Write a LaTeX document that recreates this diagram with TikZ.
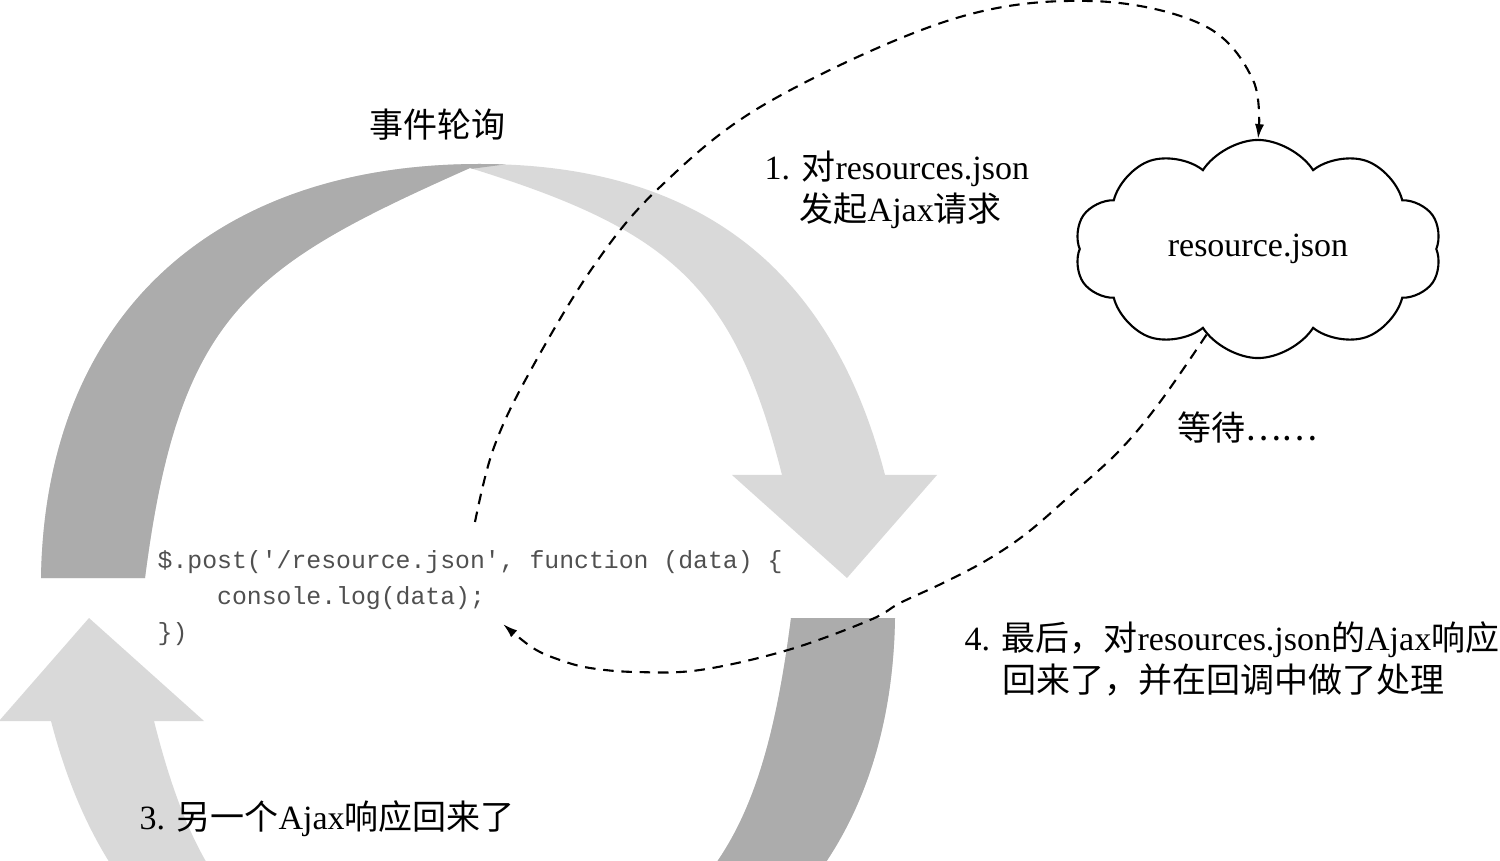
\documentclass[tikz,border=0pt]{standalone}
\usepackage{fontspec}
\setmainfont{Liberation Serif}
\setmonofont{Liberation Mono}
\newfontfamily\cjk{Noto Sans CJK SC}
\usetikzlibrary{shapes.symbols,arrows.meta}
\definecolor{arcdark}{RGB}{172,172,172}
\definecolor{arclight}{RGB}{217,217,217}
\definecolor{codegray}{RGB}{80,80,80}
\def\upperband{%
  (41,578) .. controls (45,321) and (208,164) .. (480,164)
  .. controls (730,164) and (840,301) .. (885,475)
  -- (937,475) -- (847,578) -- (732,475) -- (782,475)
  .. controls (734,285) and (670,230) .. (470,168)
  .. controls (250,266) and (179,312) .. (145,578)
  -- cycle}
\begin{document}
\begin{tikzpicture}[x=0.01cm, y=-0.01cm,
  lbl/.style={font=\fontsize{9.67pt}{11.95pt}\selectfont, inner sep=0pt, anchor=base west},
  codeline/.style={font=\ttfamily\fontsize{7.05pt}{10.24pt}\selectfont, text=codegray, inner sep=0pt, anchor=base west},
  flow/.style={draw=black, line width=0.6pt, dash pattern=on 3pt off 2.2pt, -{Latex[length=4.2pt,width=2.6pt]}},
  cloudbox/.style={cloud, cloud puffs=10, cloud puff arc=115, aspect=1.7, draw=black, line width=0.6pt, fill=white,
     minimum width=3.67cm, minimum height=2.18cm, inner sep=0pt, font=\fontsize{9.67pt}{11.95pt}\selectfont}]
\useasboundingbox (0,0) rectangle (1500,861);
\begin{scope}
  \clip (0,0) rectangle (1500,861);
  % upper band
  \fill[arclight] \upperband;
  \begin{scope}
    \clip \upperband;
    \fill[arcdark] (-10,100) -- (516,100) -- (516,163) -- (470,169) -- (455,900) -- (-10,900) -- cycle;
  \end{scope}
  % lower band (point reflection of the upper one)
  \begin{scope}[rotate around={180:(468,598)}]
    \fill[arclight] \upperband;
    \begin{scope}
      \clip \upperband;
      \fill[arcdark] (-10,100) -- (516,100) -- (516,163) -- (470,169) -- (455,900) -- (-10,900) -- cycle;
    \end{scope}
  \end{scope}
\end{scope}

% texts
\node[lbl] (title) at (369,138) {\cjk 事件轮询};
\node[lbl] (l1a) at (764,180) {1. {\cjk 对}resources.json};
\node[lbl] (l1b) at (799,222) {{\cjk 发起}Ajax{\cjk 请求}};
\node[lbl] (wait) at (1177,440) {\cjk 等待……};
\node[lbl] (l4a) at (964,650) {4. {\cjk 最后，对}resources.json{\cjk 的}Ajax{\cjk 响应}};
\node[lbl] (l4b) at (1002,692) {\cjk 回来了，并在回调中做了处理};
\node[lbl] (l3) at (139,829) {3. {\cjk 另一个}Ajax{\cjk 响应回来了}};

% code
\node[codeline] (code1) at (157,568) {\$.post(\textquotesingle/resource.json\textquotesingle, function (data) \{};
\node[codeline] (code2) at (157,604) {\phantom{xxxx}console.log(data);};
\node[codeline] (code3) at (157,640) {\})};

% cloud
\node[cloudbox] (cloud) at (1258,249) {resource.json};

\coordinate (codetop) at (475,522);
\coordinate (codeend) at (503,624);

\draw[flow] plot[smooth, tension=0.6] coordinates {(codetop) (493,450) (527,377) (593,267) (660,187) (767,103) (950,20) (1090,1) (1203,25) (1253,80) (cloud.north)};
\draw[flow] plot[smooth, tension=0.6] coordinates {(cloud.239) (1160,402) (1120,450) (1073,493) (1027,533) (987,560) (943,583) (900,603) (870,620) (788,650) (700,670) (636,672) (590,668) (560,660) (533,648) (codeend)};
\end{tikzpicture}
\end{document}
